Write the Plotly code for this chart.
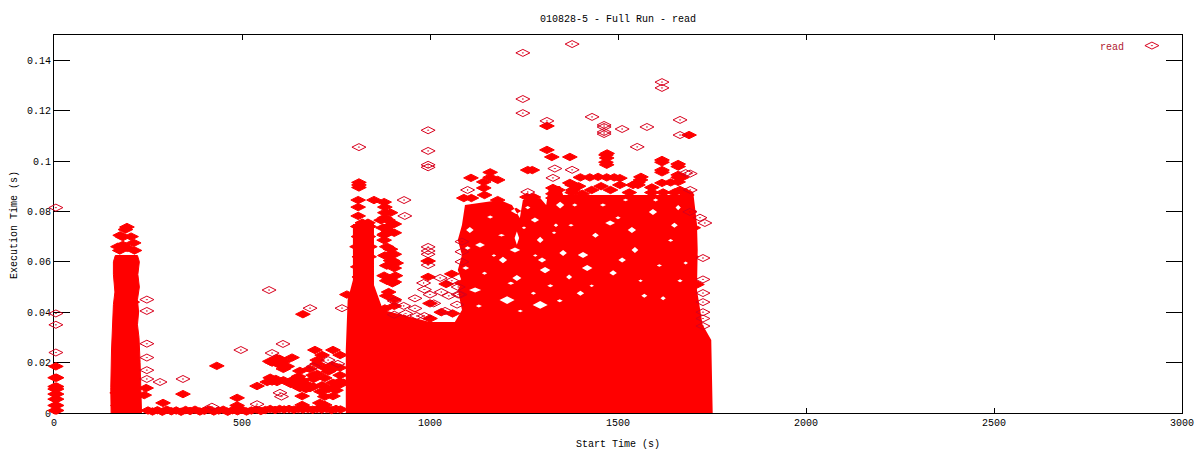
import plotly.graph_objects as go

title = "010828-5 - Full Run - read"
x_ticks = [0, 500, 1000, 1500, 2000, 2500, 3000]
y_ticks = [0, 0.02, 0.04, 0.06, 0.08, 0.1, 0.12, 0.14]
y_labels = ["0", "0.02", "0.04", "0.06", "0.08", "0.1", "0.12", "0.14"]

# saturated regions, where single reads cannot be told apart: outline
burst_x = [152,151,153,155,158,162,158,158,163,222,227,223,227,222,225,222,226,229,231,233]
burst_y = [-.001,.01,.025,.035,.043,.048,.055,.06,.0625,.0625,.06,.055,.05,.045,.04,.035,.03,.02,.01,-.001]
main_x = [776,776,781,795,795,851,851,875,1000,1066,1085,1074,1085,1074,1085,1074,1085,1093,1186,1218,1239,1247,1293,1309,1316,1346,1354,1367,1426,1691,1700,1710,1712,1710,1725,1748,1752]
main_y = [-.001,.025,.0448,.0528,.075,.075,.0508,.0409,.0361,.0361,.0409,.0488,.052,.0567,.0627,.0687,.0746,.0825,.0845,.0825,.0774,.0845,.0853,.0825,.0893,.0901,.0865,.0865,.0865,.0865,.0877,.075,.0647,.0488,.035,.029,-.001]

# pale gaps inside the saturated region: centre of each gap
gap_x = [1229,1231,1346,1354,1279,1293,1226,1194,1298,1306,1231,1205,1293,1479,1537,1407,1511,1418,1487,1545,1593,1120,1133,1106,1400,1650,1660,1620,1570,1440,1370,
         1160,1260,1335,1190,1145,1250,1320,1095,1170,1275,1345,1240,1130,1215,1330,1100,1280,1385,1460,1520,1600,1640,1680,1375,1430,1500,1560,1610,1665]
gap_y = [.0802,.0694,.0825,.0635,.0766,.0687,.0647,.0607,.0607,.0567,.0536,.0448,.0429,.0754,.0726,.0627,.0607,.0575,.0556,.0647,.0798,.0488,.0667,.0726,.0475,.0745,.0815,.0455,.0465,.0705,.054,
         .0778,.0815,.0745,.0705,.0555,.0735,.0505,.0575,.0625,.0475,.0445,.0405,.0425,.0515,.0715,.0655,.0625,.0825,.0825,.0845,.0845,.0685,.0595,.0745,.0505,.0775,.0525,.0585,.0525]
gap_w = [14,6,11,10,11,9,14,11,11,14,12,20,20,13,11,14,10,14,10,9,11,16,13,10,10,9,7,7,8,9,8,
         8,7,6,9,7,6,8,9,6,7,8,7,8,9,6,8,6,7,8,7,7,7,6,7,6,7,6,7,7]
gap_h = [.0012,.0026,.0013,.0012,.001,.0012,.001,.0013,.001,.0012,.0012,.0015,.0015,.001,.0012,.0012,.001,.0012,.001,.0012,.0012,.001,.001,.0012,.001,.001,.001,.0008,.0008,.001,.001,
         .0006,.0006,.0007,.0005,.0006,.0005,.0006,.0007,.0005,.0006,.0006,.0005,.0006,.0006,.0005,.0007,.0005,.0006,.0006,.0005,.0006,.0005,.0006,.0005,.0005,.0006,.0005,.0005,.0006]

# separately visible reads, drawn solid (overplotted clusters)
solid_x = [3,7,3,7,3,7,3,7,3,7,3,7,3,7,5,
           194,190,183,176,205,183,170,212,175,195,214,245,240,
           170,168,172,176,175,178,180,181,184,186,184,182,179,180,186,
           208,209,207,205,203,204,202,198,200,206,208,205,200,198,200,
           250,262,275,288,300,312,325,338,350,362,375,388,400,412,425,438,450,462,475,488,500,512,525,538,550,562,575,588,600,612,625,638,650,662,675,688,700,712,725,738,750,762,
           487,487,487,290,343,433,540,662,779,
           694,713,742,761,580,601,593,633,654,593,628,567,654,681,713,742,720,689,734,761,707,720,660,660,742,574,640,612,600,580,700,750,720,760,670,690,
           600,620,590,610,640,660,650,670,690,710,730,750,770,700,730,680,650,630,610,590,575,760,740,720,700,
           811,811,811,809,809,809,851,878,880,880,888,888,878,878,890,905,890,905,885,905,890,905,895,880,870,880,895,885,900,905,885,
           875,890,905,880,895,910,878,892,908,885,900,
           808,838,810,836,806,840,812,838,808,830,812,820,835,
           995,995,1043,1058,880,905,930,1000,1030,1000,1085,1110,1060,1150]
solid_y = [.001,.001,.003,.003,.0055,.0055,.0075,.0075,.0095,.0095,.0105,.0105,.014,.014,.0185,
           .0738,.0728,.0698,.0705,.07,.0667,.066,.0675,.0645,.0655,.0645,.0099,.0071,
           .003,.008,.012,.017,.021,.025,.03,.034,.039,.044,.047,.051,.055,.058,.061,
           .003,.008,.012,.016,.02,.024,.028,.032,.036,.04,.044,.048,.052,.056,.06,
           .001,.0006,.0011,.0005,.0013,.0007,.001,.0005,.0012,.0008,.0013,.0006,.0009,.0014,.0006,.001,.0013,.0005,.0011,.0007,.0013,.0006,.001,.0014,.0008,.0012,.0016,.0012,.0016,.0014,.0016,.0013,.0016,.0014,.0016,.0013,.0016,.0014,.0016,.0012,.0016,.0014,
           .006,.003,.0015,.004,.0075,.0187,.0107,.0392,.047,
           .025,.023,.025,.023,.02,.019,.0218,.022,.0167,.0123,.0123,.0123,.0099,.0099,.011,.012,.0139,.015,.017,.015,.004,.0032,.0067,.0032,.0067,.0205,.0125,.0205,.0215,.0125,.021,.009,.0065,.0125,.0095,.0135,
           .0195,.0185,.0205,.0175,.0135,.013,.0145,.0115,.0105,.0085,.0095,.0105,.012,.0155,.0165,.0175,.0105,.0115,.013,.0135,.014,.018,.019,.018,.0195,
           .0905,.0895,.0915,.0845,.0817,.0782,.0845,.0837,.0817,.0795,.0766,.074,.0706,.0686,.072,.075,.0625,.063,.0585,.0575,.048,.045,.0795,.0775,.0765,.071,.065,.066,.0605,.052,.0465,
           .0735,.0725,.0715,.0625,.0605,.0595,.0545,.0535,.0545,.0525,.0515,
           .074,.074,.07,.07,.066,.066,.062,.062,.058,.058,.054,.0755,.0755,
           .0603,.054,.0512,.0552,.0415,.0425,.0375,.0375,.04,.0435,.0515,.0515,.0395,.045]

# upper edge of the cloud, 1090-1700 s
top_x = [1109,1160,1160,1180,1143,1143,1145,1090,1110,1180,1180,1260,1272,1258,1275,1327,1327,1327,1340,1378,1378,1395,
         1311,1324,1372,1468,1468,1471,1617,1617,1617,1660,1660,1660,1561,1553,1447,1505,1372,1683,1689,1311,1400,1425,1470,1490,1540,1590,1640,1670,
         1665,1680,1690,1700,1695,1710,
         1380,1405,1430,1455,1480,1505,1530,1590,1620,1650,1680,1470,1470,1617,1617,1660,1660,1560,1553]
top_y = [.0933,.0955,.0935,.0925,.0917,.0893,.0865,.0853,.0853,.0845,.083,.0964,.0964,.0857,.0857,.0893,.087,.0853,.0885,.0905,.0875,.09,
         .1139,.1016,.1016,.1024,.0995,.103,.1004,.0964,.0913,.0988,.0945,.0917,.0937,.0905,.0937,.0932,.0913,.0865,.1103,.1044,.0935,.0935,.0935,.0935,.0905,.0895,.0915,.0935,
         .0885,.0835,.08,.0735,.062,.051,
         .0885,.087,.0885,.09,.0885,.0905,.0875,.0875,.0875,.0875,.0875,.1012,.0985,.0995,.0955,.0978,.0935,.0925,.0915]

# isolated reads, drawn as open diamonds
open_x = [5,5,5,5,247,247,247,247,247,247,282,343,497,572,609,681,766,420,540,601,605,580,729,755,690,
          811,931,933,995,995,995,995,1247,1378,1247,1247,1431,1463,1463,1463,1463,1511,1577,1617,1617,1665,1665,1311,1551,1692,1692,1332,1378,1327,1100,1260,
          995,995,995,995,1027,1058,983,1726,1726,1726,1726,1726,1726,1726,1691,1718,1731,1680,
          1085,1085,1085,1075,1080,1072,
          905,930,960,985,1010,905,935,965,1000,1030,1050,1075,1040,960,985]
open_y = [.0815,.0395,.035,.024,.045,.0405,.0275,.022,.017,.0135,.0123,.0135,.025,.0488,.0274,.0416,.0416,.0025,.0035,.008,.0065,.0238,.021,.0195,.0185,
          .1055,.0845,.0782,.1122,.104,.0985,.0975,.1429,.1464,.1246,.119,.1175,.1143,.1135,.1107,.1115,.1127,.1135,.1313,.129,.1163,.1103,.1159,.1056,.095,.0885,.097,.0965,.0933,.0885,.0877,
          .0659,.0643,.063,.0587,.0536,.0525,.0516,.0615,.053,.0476,.044,.04,.0375,.0345,.0798,.0775,.0754,.0952,
          .068,.064,.06,.05,.047,.043,
          .0445,.0425,.0415,.049,.0435,.039,.0395,.0385,.047,.048,.0465,.047,.0405,.0455,.0385]

legend_x = [2920]
legend_y = [.1458]

RED = "#ff0000"
CRIM = "#d8001c"

# each gap is wound against the outline so that it stays unfilled
hole_x, hole_y = [], []
for gx, gy, gw, gh in zip(gap_x, gap_y, gap_w, gap_h):
    hole_x += [None, gx - gw, gx, gx + gw, gx, gx - gw]
    hole_y += [None, gy, gy - gh, gy, gy + gh, gy]

fig = go.Figure()
fig.add_trace(go.Scatter(x=burst_x, y=burst_y, mode="lines", fill="toself", fillcolor=RED,
                         line=dict(color=RED, width=1), cliponaxis=False, showlegend=False, hoverinfo="skip"))
fig.add_trace(go.Scatter(x=main_x + hole_x, y=main_y + hole_y, mode="none", fill="toself", fillcolor=RED,
                         cliponaxis=False, showlegend=False, hoverinfo="skip"))

fig.add_trace(go.Scatter(x=solid_x + top_x, y=solid_y + top_y, mode="markers", cliponaxis=False, showlegend=False,
                         marker=dict(symbol="diamond-wide", size=10.5, color=RED, line=dict(color=RED, width=1))))
fig.add_trace(go.Scatter(x=open_x + legend_x, y=open_y + legend_y, mode="markers", cliponaxis=False, showlegend=False,
                         marker=dict(symbol="diamond-wide-open-dot", size=10, color=CRIM, line=dict(color=CRIM, width=1))))

FONT = dict(family="Liberation Mono", size=10, color="#000000")
fig.update_layout(
    width=1200, height=450, margin=dict(l=54, r=18, t=35, b=37, autoexpand=False),
    paper_bgcolor="white", plot_bgcolor="white", font=FONT, showlegend=False,
    title=dict(text=title, x=618/1200, xanchor="center", y=1-18/450, yanchor="middle", font=FONT),
    annotations=[
        dict(text="read", xref="paper", yref="paper", x=(1112-54)/1128, y=(413-47)/378,
             xanchor="center", yanchor="middle", showarrow=False,
             font=dict(family="Liberation Mono", size=10, color="#b02030")),
        dict(text="Execution Time (s)", xref="paper", yref="paper", x=(14-54)/1128, y=(413-225)/378,
             xanchor="center", yanchor="middle", textangle=-90, showarrow=False, font=FONT),
    ],
)
fig.update_xaxes(range=[0, 3000], tickvals=x_ticks, ticks="inside", ticklen=5, tickcolor="black", tickwidth=1,
                 showline=True, linecolor="black", linewidth=1, mirror="ticks", showgrid=False, zeroline=False,
                 layer="below traces", automargin=False, title=dict(text="Start Time (s)", font=FONT), tickfont=FONT)
fig.update_yaxes(range=[0, 0.15], tickvals=y_ticks, ticktext=y_labels, ticks="inside", ticklen=16, tickcolor="black", tickwidth=1,
                 showline=True, linecolor="black", linewidth=1, mirror="ticks", showgrid=False, zeroline=False,
                 layer="below traces", automargin=False, tickfont=FONT)

fig.write_html("out.html", config=dict(displayModeBar=False), post_script="document.body.style.margin='0';")
